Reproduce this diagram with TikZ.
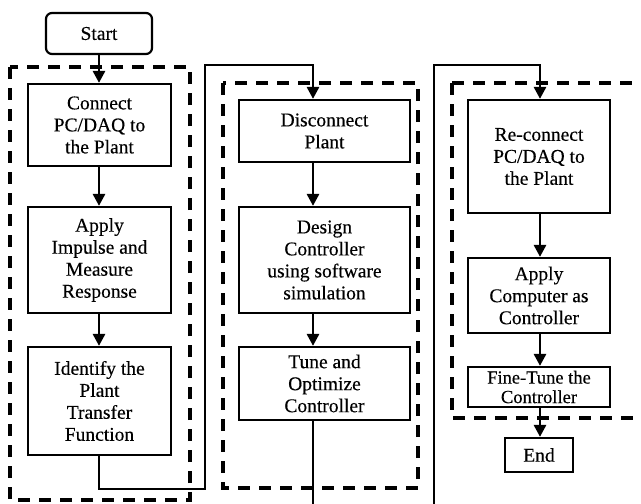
\documentclass[tikz,border=0pt]{standalone}
\usepackage{fontspec}
\setmainfont{Liberation Serif}[FakeBold=0.3]
\usetikzlibrary{arrows.meta}
\begin{document}
\begin{tikzpicture}[x=1pt,y=-1pt,
  stepbox/.style={draw,line width=2.2pt,align=center,inner sep=0pt,
    font=\fontsize{19.5}{22}\selectfont},
  grp/.style={line width=4pt,dash pattern=on 12pt off 9pt},
  conn/.style={line width=2.8pt},
  arr/.style={conn,-{Triangle[length=12pt,width=12pt]}}]
\useasboundingbox (0,0) rectangle (641,504);
\begin{scope}
\clip (0,0) rectangle (641,504);
% groups
\draw[grp] (10,67) rectangle (190,500);
\draw[grp] (223,83) rectangle (418,488);
\draw[grp] (452,83) -- (660,83) (452,83) -- (452,418) -- (660,418);
% nodes
\node[stepbox,rounded corners=6pt,minimum width=106pt,minimum height=41pt] (start) at (99,33.5) {Start};
\node[stepbox,minimum width=143pt,minimum height=82pt] (c1) at (99.5,125) {Connect\\PC/DAQ to\\the Plant};
\node[stepbox,minimum width=143pt,minimum height=106pt] (c2) at (99.5,260) {Apply\\Impulse and\\Measure\\Response};
\node[stepbox,minimum width=143pt,minimum height=108pt] (c3) at (99.5,401) {Identify the\\Plant\\Transfer\\Function};
\node[stepbox,minimum width=171pt,minimum height=62pt] (d1) at (324.5,131) {Disconnect\\Plant};
\node[stepbox,minimum width=171pt,minimum height=106pt] (d2) at (324.5,260) {Design\\Controller\\using software\\simulation};
\node[stepbox,minimum width=171pt,minimum height=73pt] (d3) at (324.5,383.5) {Tune and\\Optimize\\Controller};
\node[stepbox,minimum width=142pt,minimum height=113pt] (e1) at (539,156.5) {Re-connect\\PC/DAQ to\\the Plant};
\node[stepbox,minimum width=142pt,minimum height=75pt] (e2) at (539,295.5) {Apply\\Computer as\\Controller};
\node[stepbox,minimum width=142pt,minimum height=40pt,font=\fontsize{18.5}{19.5}\selectfont] (e3) at (539,387) {Fine-Tune the\\Controller};
\node[stepbox,minimum width=68pt,minimum height=34pt] (end) at (539,455) {End};
% helper coordinates
\coordinate (a1) at (99,0);
\coordinate (a2) at (313,0);
\coordinate (a3) at (540,0);
\coordinate (b1) at (99,489);
\coordinate (b2) at (205,489);
\coordinate (b3) at (205,65);
\coordinate (b4) at (313,65);
\coordinate (t1) at (313,510);
\coordinate (f1) at (434,510);
\coordinate (f2) at (434,65);
\coordinate (f3) at (540,65);
% connectors
\draw[arr] (start.south -| a1) -- (c1.north -| a1);
\draw[arr] (c1.south -| a1) -- (c2.north -| a1);
\draw[arr] (c2.south -| a1) -- (c3.north -| a1);
\draw[arr,line join=miter] (c3.south -| a1) -- (b1) -- (b2) -- (b3) -- (b4) -- (d1.north -| a2);
\draw[arr] (d1.south -| a2) -- (d2.north -| a2);
\draw[arr] (d2.south -| a2) -- (d3.north -| a2);
\draw[conn] (d3.south -| a2) -- (t1);
\draw[arr,line join=miter] (f1) -- (f2) -- (f3) -- (e1.north -| a3);
\draw[arr] (e1.south -| a3) -- (e2.north -| a3);
\draw[arr] (e2.south -| a3) -- (e3.north -| a3);
\draw[arr] (e3.south -| a3) -- (end.north -| a3);
\end{scope}
\end{tikzpicture}
\end{document}
